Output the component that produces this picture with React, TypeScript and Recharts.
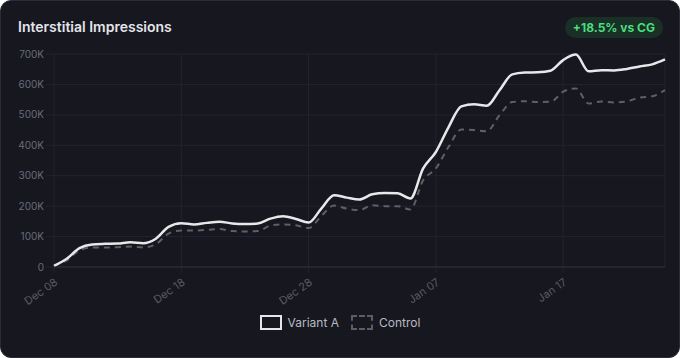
import { LineChart, Line, XAxis, YAxis, CartesianGrid, Legend } from 'recharts'

const DATES = [
  'Dec 08','Dec 09','Dec 10','Dec 11','Dec 12','Dec 13','Dec 14','Dec 15','Dec 16','Dec 17',
  'Dec 18','Dec 19','Dec 20','Dec 21','Dec 22','Dec 23','Dec 24','Dec 25','Dec 26','Dec 27',
  'Dec 28','Dec 29','Dec 30','Dec 31','Jan 01','Jan 02','Jan 03','Jan 04','Jan 05','Jan 06',
  'Jan 07','Jan 08','Jan 09','Jan 10','Jan 11','Jan 12','Jan 13','Jan 14','Jan 15','Jan 16',
  'Jan 17','Jan 18','Jan 19','Jan 20','Jan 21','Jan 22','Jan 23','Jan 24','Jan 25',
]

const VARIANT_A = [
  4000, 27000, 62000, 74000, 76000, 77000, 81000, 78000, 93000, 132000,
  144000, 140000, 145000, 149000, 143000, 141000, 143000, 159000, 167000, 158000,
  146000, 192000, 236000, 228000, 222000, 239000, 243000, 242000, 225000, 324000,
  378000, 460000, 528000, 535000, 530000, 581000, 633000, 639000, 640000, 645000,
  680000, 698000, 643000, 647000, 646000, 651000, 659000, 666000, 682000,
]

const CONTROL = [
  3000, 22000, 55000, 64000, 64000, 65000, 67000, 64000, 75000, 110000,
  120000, 120000, 122000, 125000, 118000, 117000, 118000, 136000, 140000, 137000,
  128000, 168000, 202000, 192000, 187000, 203000, 200000, 200000, 189000, 285000,
  324000, 395000, 452000, 450000, 446000, 499000, 542000, 545000, 542000, 543000,
  576000, 587000, 537000, 544000, 541000, 544000, 557000, 561000, 581000,
]

const Y_TICKS = [0, 100000, 200000, 300000, 400000, 500000, 600000, 700000]

const data = DATES.map((date, i) => ({ date, variant: VARIANT_A[i], control: CONTROL[i] }))

const FONT = 'Inter, "Noto Sans", sans-serif'
const GRID = '#23242f'

function XTick({ x, y, payload }: any) {
  return (
    <g transform={`translate(${x + 1},${y + 4})`}>
      <text textAnchor="end" fontSize={11} fill="#5a5c66" fontFamily={FONT} transform="rotate(-35)" dy={6}>
        {payload.value}
      </text>
    </g>
  )
}

function LegendBox() {
  return (
    <div style={{ display: 'flex', justifyContent: 'center', alignItems: 'center', gap: 12, fontFamily: FONT, fontSize: 12, color: '#b9bac2' }}>
      <span style={{ display: 'flex', alignItems: 'center', gap: 6 }}>
        <span style={{ width: 18, height: 11, border: '2px solid #e6e6e8', display: 'inline-block' }} />
        Variant A
      </span>
      <span style={{ display: 'flex', alignItems: 'center', gap: 6 }}>
        <span style={{ width: 18, height: 11, border: '2px dashed #5b5c64', display: 'inline-block' }} />
        Control
      </span>
    </div>
  )
}

export default function App() {
  return (
    <div style={{ position: 'fixed', left: 0, top: 0, width: 680, height: 358, background: '#fff' }}>
      <div style={{ position: 'absolute', inset: 0, background: '#16171f', border: '1px solid #2a2b34', borderRadius: 11, boxSizing: 'border-box', overflow: 'hidden' }}>
        <div style={{ position: 'absolute', left: 17, top: 17, fontFamily: FONT, fontSize: 14, fontWeight: 600, color: '#e4e5ea' }}>
          Interstitial Impressions
        </div>
        <div style={{ position: 'absolute', right: 16, top: 16, height: 21, padding: '0 8px', borderRadius: 11, background: '#1a2f26', color: '#4ade80', fontFamily: FONT, fontSize: 12, fontWeight: 700, lineHeight: '21px' }}>
          +18.5% vs CG
        </div>
        <div style={{ position: 'absolute', left: -1, top: -1 }}>
          <LineChart width={680} height={358} data={data} margin={{ top: 54, right: 15, left: 0, bottom: 0 }}>
            <CartesianGrid stroke={GRID} strokeWidth={1} />
            <XAxis
              dataKey="date"
              interval={9}
              height={91}
              tick={<XTick />}
              tickLine={{ stroke: GRID }}
              tickSize={6}
              axisLine={{ stroke: '#2f303c' }}
            />
            <YAxis
              width={54}
              domain={[0, 700000]}
              ticks={Y_TICKS}
              tickFormatter={(v: number) => (v === 0 ? '0' : `${v / 1000}K`)}
              tick={{ fontSize: 10, fill: '#6a6c76', fontFamily: FONT }}
              tickLine={{ stroke: GRID }}
              tickSize={8}
              axisLine={false}
            />
            <Legend
              layout="vertical"
              align="center"
              verticalAlign="middle"
              wrapperStyle={{ top: 315, left: 0, width: 680 }}
              content={() => <LegendBox />}
            />
            <Line
              type="monotone"
              dataKey="control"
              stroke="#5e5f67"
              strokeWidth={2}
              strokeDasharray="6 5"
              dot={false}
              isAnimationActive={false}
            />
            <Line
              type="monotone"
              dataKey="variant"
              stroke="#e8e8ea"
              strokeWidth={2.5}
              dot={false}
              isAnimationActive={false}
            />
          </LineChart>
        </div>
      </div>
    </div>
  )
}
